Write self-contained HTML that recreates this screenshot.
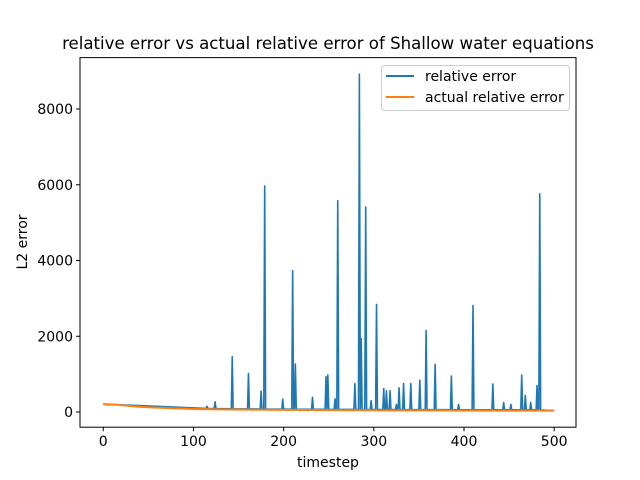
<!DOCTYPE html>
<html><head><meta charset="utf-8"><style>
body{margin:0;background:#fff;}
svg{display:block;font-family:"DejaVu Sans","Liberation Sans",sans-serif;}
</style></head><body>
<svg id="chart" width="640" height="480" viewBox="0 0 640 480">
<rect width="640" height="480" fill="#fff"/>
<text x="328" y="49" font-size="16.6" text-anchor="middle">relative error vs actual relative error of Shallow water equations</text>
<g id="plot"></g>
<text x="328" y="467" font-size="14" text-anchor="middle">timestep</text>
<text x="0" y="0" font-size="14" text-anchor="middle" transform="translate(27,242) rotate(-90)">L2 error</text>
<g>
<rect x="381.5" y="65.5" width="188" height="45" rx="3" fill="#fff" fill-opacity="0.8" stroke="#ccc"/>
<line x1="386" y1="76" x2="414" y2="76" stroke="#1f77b4" stroke-width="2"/>
<text x="425" y="81" font-size="14">relative error</text>
<line x1="386" y1="97" x2="414" y2="97" stroke="#ff7f0e" stroke-width="2"/>
<text x="425" y="102" font-size="14">actual relative error</text>
</g>
</svg>
<script>
const xTicks=[0,100,200,300,400,500];
const yTicks=[0,2000,4000,6000,8000];
const orangeT=[0,5,10,15,20,30,40,50,60,70,80,90,100,120,140,160,180,200,250,300,350,400,450,500];
const orangeV=[210,190,200,195,180,160,140,125,115,105,95,88,80,72,66,62,58,55,50,45,42,40,38,36];
const spikeT=[115,124,143,161,175,179,199,210,213,232,247,249,257,260,279,284,286,291,297,303,311,314,318,325,328,333,341,351,358,368,386,394,410,432,444,452,464,468,474,481,484];
const spikeV=[150,270,1460,1020,550,5970,340,3730,1270,390,930,980,350,5580,750,8920,1940,5410,300,2840,620,560,560,200,640,750,750,840,2150,1260,950,200,2810,740,250,200,980,440,250,700,5760];
const X0=80,X1=576,Y0=57.6,Y1=427.2;
const xMin=-25.8,xMax=524.2,yMin=-401,yMax=9357;
const sx=t=>X0+(t-xMin)/(xMax-xMin)*(X1-X0);
const sy=v=>Y1-(v-yMin)/(yMax-yMin)*(Y1-Y0);
const NS="http://www.w3.org/2000/svg";
const g=document.getElementById('plot');
function mk(tag,attrs){const e=document.createElementNS(NS,tag);for(const k in attrs)e.setAttribute(k,attrs[k]);g.appendChild(e);return e;}
function base(t){let i=0;while(i<orangeT.length-2&&orangeT[i+1]<t)i++;const a=orangeT[i],b=orangeT[i+1];return orangeV[i]+(orangeV[i+1]-orangeV[i])*(t-a)/(b-a);}
let pts=[[0,base(0)]];
for(let i=0;i<spikeT.length;i++){pts.push([spikeT[i]-1,base(spikeT[i]-1)+20]);pts.push([spikeT[i],spikeV[i]]);pts.push([spikeT[i]+1,base(spikeT[i]+1)+20]);}
pts.push([500,base(500)]);
const blue=mk('polyline',{points:pts.map(p=>sx(p[0]).toFixed(2)+','+sy(p[1]).toFixed(2)).join(' '),fill:'none',stroke:'#1f77b4','stroke-width':1.6,'stroke-linejoin':'round'});


const orange=mk('polyline',{points:orangeT.map((t,i)=>sx(t).toFixed(2)+','+sy(orangeV[i]).toFixed(2)).join(' '),fill:'none',stroke:'#ff7f0e','stroke-width':2});


const frame=mk('rect',{x:X0,y:Y0,width:X1-X0,height:Y1-Y0,fill:'none',stroke:'#000','stroke-width':1});


xTicks.forEach(t=>{
 const l=mk('line',{x1:sx(t),x2:sx(t),y1:Y1,y2:Y1+4,stroke:'#000'});
 
 
 const tx=mk('text',{x:sx(t),y:Y1+19,'font-size':14,'text-anchor':'middle'});tx.textContent=t;
 
 
});
yTicks.forEach(v=>{
 const l=mk('line',{x1:X0-4,x2:X0,y1:sy(v),y2:sy(v),stroke:'#000'});
 
 
 const tx=mk('text',{x:X0-7,y:sy(v)+5,'font-size':14,'text-anchor':'end'});tx.textContent=v;
 
 
});
</script>
</body></html>
